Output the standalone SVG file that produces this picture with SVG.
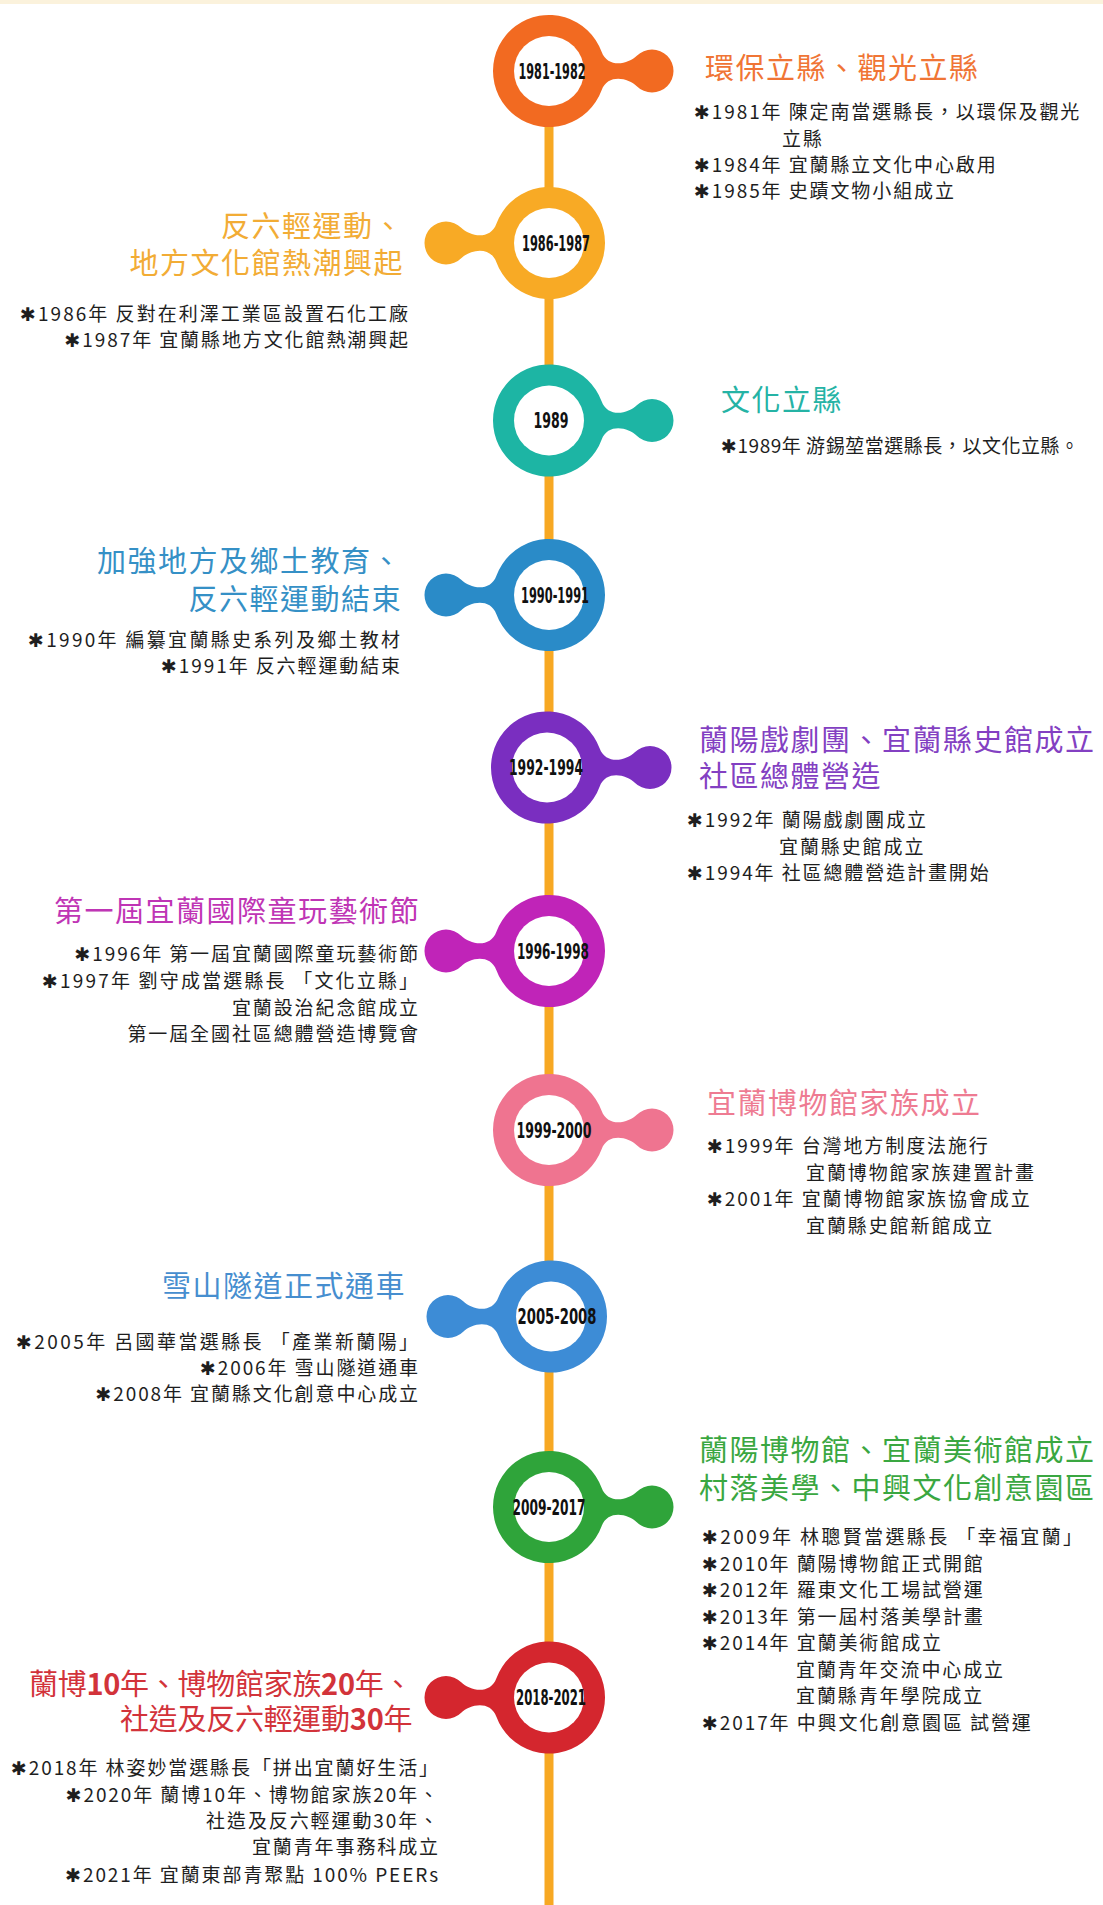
<svg xmlns="http://www.w3.org/2000/svg" xmlns:xlink="http://www.w3.org/1999/xlink" width="1103" height="1905" viewBox="0 0 1103 1905">
<defs>
<path id="blob" d="M52.6,-19.2 C58.8,-2.3 79.3,-6.7 87.8,-15.2 A21.5,21.5 0 1 1 87.8,15.2 C79.3,6.7 58.8,2.3 52.6,19.2 A56,56 0 1 1 52.6,-19.2 Z"/>
</defs>
<style>
.t{font-family:"Noto Sans CJK TC","Noto Sans CJK SC",sans-serif;font-size:29px;letter-spacing:1.5px}
.b{font-family:"Noto Sans CJK TC","DejaVu Sans",sans-serif;font-size:19px;letter-spacing:1.9px;fill:#1e1e1e}
.y{font-family:"Liberation Sans Narrow","DejaVu Sans Condensed","Liberation Sans",sans-serif;font-weight:bold;font-size:21px;fill:#111;text-anchor:middle}
.r{text-anchor:end}
.d{font-weight:bold}
.hole{fill:#fff}
</style>
<rect x="0" y="0" width="1103" height="1905" fill="#fff"/>
<rect x="0" y="0" width="1103" height="4" fill="#FBF2DC"/>
<g id="connectors">
<line x1="549" y1="70" x2="549" y2="1905" stroke="#F7A823" stroke-width="9"/>
</g>

<g id="node-1981-1982" transform="translate(0,1)">
<use xlink:href="#blob" transform="translate(549,70)" fill="#F26A21"/>
<circle cx="549" cy="70" r="35" class="hole"/>
<text class="y" x="552" y="77.5" textLength="67" lengthAdjust="spacingAndGlyphs">1981-1982</text>
<text class="t" x="705" y="78" fill="#F07535">環保立縣、觀光立縣</text>
<text class="b" x="694" y="118">✱1981年 陳定南當選縣長，以環保及觀光</text>
<text class="b" x="782" y="145">立縣</text>
<text class="b" x="694" y="171">✱1984年 宜蘭縣立文化中心啟用</text>
<text class="b" x="694" y="197">✱1985年 史蹟文物小組成立</text>
</g>

<g id="node-1986-1987" transform="translate(0,1)">
<use xlink:href="#blob" transform="translate(549,242) scale(-1,1)" fill="#F8AA25"/>
<circle cx="549" cy="242" r="35" class="hole"/>
<text class="y" x="556" y="249.5" textLength="68" lengthAdjust="spacingAndGlyphs">1986-1987</text>
<text class="t r" x="404" y="236" fill="#F2AC35">反六輕運動、</text>
<text class="t r" x="404" y="273" fill="#F2AC35">地方文化館熱潮興起</text>
<text class="b r" x="410" y="320" textLength="390" lengthAdjust="spacing">✱1986年 反對在利澤工業區設置石化工廠</text>
<text class="b r" x="410" y="346">✱1987年 宜蘭縣地方文化館熱潮興起</text>
</g>

<g id="node-1989" transform="translate(0,1.5)">
<use xlink:href="#blob" transform="translate(549,419)" fill="#1DB5A4"/>
<circle cx="549" cy="419" r="35" class="hole"/>
<text class="y" x="551" y="426.5" textLength="35" lengthAdjust="spacingAndGlyphs">1989</text>
<text class="t" x="721" y="409" fill="#25B3A5">文化立縣</text>
<text class="b" x="721" y="451" textLength="360" lengthAdjust="spacing">✱1989年 游錫堃當選縣長，以文化立縣。</text>
</g>

<g id="node-1990-1991" transform="translate(0,2)">
<use xlink:href="#blob" transform="translate(549,593) scale(-1,1)" fill="#2A8BC8"/>
<circle cx="549" cy="593" r="35" class="hole"/>
<text class="y" x="555" y="600.5" textLength="68" lengthAdjust="spacingAndGlyphs">1990-1991</text>
<text class="t r" x="402" y="570" fill="#3590C6">加強地方及鄉土教育、</text>
<text class="t r" x="402" y="608" fill="#3590C6">反六輕運動結束</text>
<text class="b r" x="402" y="645" textLength="374" lengthAdjust="spacing">✱1990年 編纂宜蘭縣史系列及鄉土教材</text>
<text class="b r" x="402" y="671">✱1991年 反六輕運動結束</text>
</g>

<g id="node-1992-1994" transform="translate(0,2.5)">
<use xlink:href="#blob" transform="translate(547,765)" fill="#7A2EC0"/>
<circle cx="547" cy="765" r="35" class="hole"/>
<text class="y" x="546" y="772.5" textLength="74" lengthAdjust="spacingAndGlyphs">1992-1994</text>
<text class="t" x="699" y="748" fill="#8340C2">蘭陽戲劇團、宜蘭縣史館成立</text>
<text class="t" x="699" y="784" fill="#8340C2">社區總體營造</text>
<text class="b" x="687" y="824">✱1992年 蘭陽戲劇團成立</text>
<text class="b" x="779" y="851">宜蘭縣史館成立</text>
<text class="b" x="687" y="877">✱1994年 社區總體營造計畫開始</text>
</g>

<g id="node-1996-1998" transform="translate(0,3)">
<use xlink:href="#blob" transform="translate(549,948) scale(-1,1)" fill="#C024B8"/>
<circle cx="549" cy="948" r="35" class="hole"/>
<text class="y" x="553" y="955.5" textLength="72" lengthAdjust="spacingAndGlyphs">1996-1998</text>
<text class="t r" x="420" y="919" fill="#BF35B5">第一屆宜蘭國際童玩藝術節</text>
<text class="b r" x="420" y="958">✱1996年 第一屆宜蘭國際童玩藝術節</text>
<text class="b r" x="420" y="985" textLength="378" lengthAdjust="spacing">✱1997年 劉守成當選縣長 「文化立縣」</text>
<text class="b r" x="420" y="1012">宜蘭設治紀念館成立</text>
<text class="b r" x="420" y="1038">第一屆全國社區總體營造博覽會</text>
</g>

<g id="node-1999-2000" transform="translate(0,3)">
<use xlink:href="#blob" transform="translate(549,1127)" fill="#EF7490"/>
<circle cx="549" cy="1127" r="35" class="hole"/>
<text class="y" x="554" y="1134.5" textLength="75" lengthAdjust="spacingAndGlyphs">1999-2000</text>
<text class="t" x="707" y="1111" fill="#EE7B92">宜蘭博物館家族成立</text>
<text class="b" x="707" y="1150">✱1999年 台灣地方制度法施行</text>
<text class="b" x="806" y="1177">宜蘭博物館家族建置計畫</text>
<text class="b" x="707" y="1203">✱2001年 宜蘭博物館家族協會成立</text>
<text class="b" x="806" y="1230">宜蘭縣史館新館成立</text>
</g>

<g id="node-2005-2008" transform="translate(0,3.5)">
<use xlink:href="#blob" transform="translate(551,1313) scale(-1,1)" fill="#3D8CD6"/>
<circle cx="551" cy="1313" r="35" class="hole"/>
<text class="y" x="557" y="1320.5" textLength="79" lengthAdjust="spacingAndGlyphs">2005-2008</text>
<text class="t r" x="406" y="1293" fill="#468ECF">雪山隧道正式通車</text>
<text class="b r" x="420" y="1345" textLength="404" lengthAdjust="spacing">✱2005年 呂國華當選縣長 「產業新蘭陽」</text>
<text class="b r" x="420" y="1371">✱2006年 雪山隧道通車</text>
<text class="b r" x="420" y="1397">✱2008年 宜蘭縣文化創意中心成立</text>
</g>

<g id="node-2009-2017" transform="translate(0,4)">
<use xlink:href="#blob" transform="translate(549,1503)" fill="#2FA43A"/>
<circle cx="549" cy="1503" r="35" class="hole"/>
<text class="y" x="549" y="1510.5" textLength="73" lengthAdjust="spacingAndGlyphs">2009-2017</text>
<text class="t" x="699" y="1457" fill="#3AA741">蘭陽博物館、宜蘭美術館成立</text>
<text class="t" x="699" y="1495" fill="#3AA741">村落美學、中興文化創意園區</text>
<text class="b" x="702" y="1540" textLength="382" lengthAdjust="spacing">✱2009年 林聰賢當選縣長 「幸福宜蘭」</text>
<text class="b" x="702" y="1567">✱2010年 蘭陽博物館正式開館</text>
<text class="b" x="702" y="1593">✱2012年 羅東文化工場試營運</text>
<text class="b" x="702" y="1620">✱2013年 第一屆村落美學計畫</text>
<text class="b" x="702" y="1646">✱2014年 宜蘭美術館成立</text>
<text class="b" x="796" y="1673">宜蘭青年交流中心成立</text>
<text class="b" x="796" y="1699">宜蘭縣青年學院成立</text>
<text class="b" x="702" y="1726">✱2017年 中興文化創意園區 試營運</text>
</g>

<g id="node-2018-2021" transform="translate(0,4.5)">
<use xlink:href="#blob" transform="translate(549,1693) scale(-1,1)" fill="#D4262E"/>
<circle cx="549" cy="1693" r="35" class="hole"/>
<text class="y" x="551" y="1700.5" textLength="70" lengthAdjust="spacingAndGlyphs">2018-2021</text>
<text class="t r" x="414" y="1690" fill="#D2333A" textLength="385" lengthAdjust="spacing">蘭博<tspan class="d">10</tspan>年、博物館家族<tspan class="d">20</tspan>年、</text>
<text class="t r" x="414" y="1725" fill="#D2333A" textLength="294" lengthAdjust="spacing">社造及反六輕運動<tspan class="d">30</tspan>年</text>
<text class="b r" x="440" y="1770">✱2018年 林姿妙當選縣長「拼出宜蘭好生活」</text>
<text class="b r" x="440" y="1797">✱2020年 蘭博10年、博物館家族20年、</text>
<text class="b r" x="440" y="1823">社造及反六輕運動30年、</text>
<text class="b r" x="440" y="1849">宜蘭青年事務科成立</text>
<text class="b r" x="440" y="1877">✱2021年 宜蘭東部青聚點 100% PEERs</text>
</g>
</svg>
